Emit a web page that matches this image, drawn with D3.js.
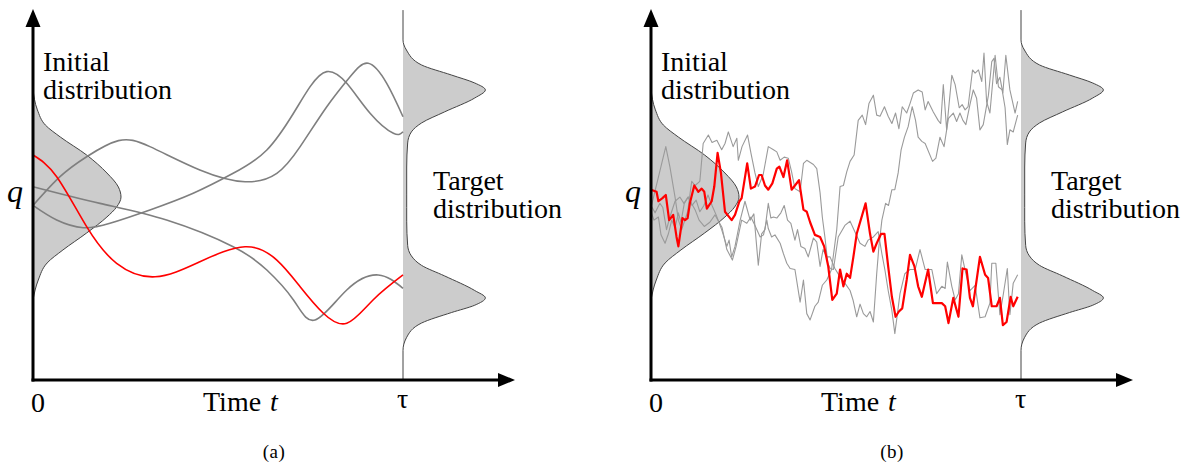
<!DOCTYPE html>
<html>
<head>
<meta charset="utf-8">
<script src="https://cdn.jsdelivr.net/npm/d3@7"></script>
<style>
  html, body { margin: 0; padding: 0; background: #fff; }
  svg { display: block; }
</style>
</head>
<body>
<svg id="chart" width="1186" height="462"></svg>
<script>
// ---- data (t in units of tau, q in units of the well position) ----
const panelNames = ["(a)", "(b)"];
const tickLabels = ["0", "\u03c4"];

// initial distribution (q, relative density)
const initQ = [1.02, 0.82, 0.676, 0.562, 0.39, 0.219, 0.086, -0.01, -0.105, -0.2, -0.352, -0.514, -0.638, -0.8, -0.99];
const initP = [0, 0.05, 0.14, 0.31, 0.61, 0.84, 0.97, 1, 0.95, 0.84, 0.61, 0.34, 0.16, 0.06, 0];

// target (double well) distribution
const targetQ = [1.77, 1.486, 1.39, 1.248, 1.152, 1.076, 1.01, 0.933, 0.80, 0.695, 0.61, 0.505, 0.276, 0.01,
                 -0.11, -0.24, -0.47, -0.57, -0.66, -0.76, -0.90, -0.97, -1.04, -1.11, -1.21, -1.35, -1.47, -1.75];
const targetP = [0, 0, 0.039, 0.21, 0.55, 0.815, 0.936, 0.815, 0.47, 0.21, 0.095, 0.053, 0.042, 0.042,
                 0.042, 0.042, 0.053, 0.095, 0.21, 0.47, 0.815, 0.936, 0.815, 0.55, 0.21, 0.039, 0, 0];

// (a) smooth trajectories [t, q]
const smoothRed = [[0,.39],[.064,.184],[.145,-.292],[.226,-.641],[.33,-.769],[.451,-.626],[.573,-.483],
  [.659,-.61],[.722,-.864],[.784,-1.114],[.848,-1.212],[.919,-.99],[1,-.752]];
const smoothGray1 = [[0,-.09],[.073,.184],[.145,.374],[.231,.527],[.316,.47],[.451,.248],[.573,.136],
  [.659,.216],[.722,.47],[.794,.85],[.857,1.136],[.906,1.264],[.956,1.073],[1,.755]];
const smoothGray2 = [[0,-.09],[.064,-.229],[.136,-.302],[.208,-.26],[.316,-.133],[.433,.026],[.541,.216],
  [.632,.438],[.704,.788],[.749,1.041],[.794,1.184],[.848,1.073],[.911,.788],[.974,.597],[1,.612]];
const smoothGray3 = [[0,.089],[.181,-.07],[.361,-.229],[.541,-.483],[.632,-.705],[.704,-.99],[.762,-1.181],
  [.848,-.895],[.933,-.752],[1,-.879]];

// (b) noisy trajectories [t, q]
const noisyRed = [[0,.06],[.015,.04],[.02,-.05],[.031,-.02],[.04,.01],[.049,-.23],[.06,-.18],[.069,-.39],
  [.074,-.48],[.085,-.21],[.092,-.23],[.099,-.21],[.105,-.07],[.117,.1],[.128,.04],[.137,.07],[.144,.04],
  [.151,-.12],[.164,-.05],[.171,.09],[.18,.41],[.189,.22],[.2,-.15],[.218,-.23],[.227,-.18],[.239,-.05],
  [.245,-.02],[.26,.31],[.27,.07],[.281,.09],[.292,.2],[.299,.2],[.308,.1],[.317,.06],[.328,.12],[.34,.26],
  [.347,.28],[.358,.18],[.368,.34],[.38,.06],[.389,.1],[.4,.15],[.412,-.13],[.421,-.15],[.43,-.25],
  [.443,-.37],[.457,-.39],[.468,-.48],[.479,-.67],[.49,-.99],[.502,-.93],[.511,-.7],[.52,-.86],[.529,-.74],
  [.538,-.78],[.547,-.58],[.556,-.36],[.58,-.07],[.592,-.36],[.601,-.53],[.61,-.45],[.622,-.36],[.631,-.36],
  [.641,-.67],[.651,-.96],[.661,-1.15],[.67,-1.1],[.679,-1.07],[.691,-.8],[.7,-.56],[.712,-.67],[.722,-.86],
  [.732,-.96],[.749,-.7],[.762,-1.02],[.786,-1.02],[.795,-1.05],[.804,-1.21],[.817,-.97],[.831,-1.15],
  [.842,-.69],[.853,-.7],[.862,-.97],[.87,-1.05],[.889,-.58],[.903,-.75],[.911,-.78],[.921,-1.05],
  [.934,-1.05],[.943,-.97],[.951,-1.23],[.961,-1.2],[.972,-.96],[.979,-1.05],[.991,-.96]];
const noisyGray1 = [[0,-.09],[.011,-.16],[.024,-.07],[.032,-.11],[.042,-.32],[.051,-.2],[.065,-.05],[.078,-.01],
  [.089,-.07],[.1,-.01],[.119,-.13],[.13,-.23],[.144,-.29],[.159,-.25],[.173,-.18],[.181,-.23],[.192,-.3],
  [.205,-.51],[.22,-.61],[.23,-.48],[.245,-.23],[.259,-.26],[.27,-.2],[.281,-.28],[.295,-.39],[.304,-.37],
  [.313,-.23],[.317,-.31],[.326,-.39],[.335,-.37],[.349,-.45],[.358,-.55],[.367,-.64],[.376,-.69],[.389,-.7],
  [.403,-1.01],[.412,-.8],[.421,-1.12],[.43,-1.18],[.443,-1.05],[.452,-1.01],[.463,-.85],[.475,-.8],
  [.488,-.7],[.502,-.32],[.511,.09],[.52,.1],[.529,.23],[.538,.33],[.549,.39],[.56,.72],[.571,.77],[.58,.68],
  [.589,.88],[.601,.96],[.61,.77],[.619,.76],[.631,.85],[.641,.76],[.651,.69],[.661,.79],[.67,.64],[.679,.85],
  [.691,.79],[.7,.88],[.709,.98],[.722,1.01],[.733,.99],[.741,.82],[.749,.9],[.763,.8],[.776,.72],[.783,.69],
  [.79,1.06],[.799,.63],[.813,1.15],[.822,1.06],[.833,.84],[.841,.87],[.849,.82],[.857,.85],[.869,1.2],
  [.876,1.17],[.885,1.2],[.894,1.09],[.9,1.36],[.907,.9],[.916,.79],[.93,1.34],[.939,1.04],[.949,1.01],
  [.957,.84],[.963,.49],[.97,.63],[.979,.61],[.991,.77]];
const noisyGray2 = [[0,-.15],[.008,-.23],[.02,-.2],[.027,-.37],[.038,-.45],[.047,-.36],[.056,-.23],[.065,-.3],
  [.074,-.16],[.081,-.25],[.09,-.07],[.101,-.01],[.111,-.09],[.122,-.04],[.132,-.15],[.143,-.09],[.154,.01],
  [.165,-.09],[.176,-.18],[.191,-.32],[.205,-.48],[.211,-.42],[.218,-.58],[.227,-.48],[.241,-.23],[.254,-.05],
  [.268,-.23],[.278,-.17],[.29,-.66],[.299,-.36],[.308,-.32],[.317,-.07],[.324,-.21],[.331,-.2],[.34,-.21],
  [.351,-.16],[.36,-.09],[.369,-.23],[.378,-.26],[.389,-.42],[.396,-.32],[.405,-.48],[.416,-.5],[.425,-.58],
  [.439,-.4],[.448,-.44],[.457,-.67],[.465,-.51],[.475,-.58],[.484,-.58],[.497,-.69],[.511,-.77],[.524,-.83],
  [.538,-.9],[.546,-.99],[.556,-1.15],[.565,-1.03],[.574,-1.12],[.583,-1.15],[.592,-1.1],[.601,-1.2],
  [.61,-.74],[.616,-.48],[.624,-.23],[.634,-.07],[.642,-.09],[.651,.06],[.659,.06],[.668,.22],[.676,.44],
  [.685,.56],[.695,.66],[.706,.85],[.715,.72],[.722,.56],[.732,.52],[.741,.5],[.761,.33],[.77,.36],[.781,.56],
  [.792,.47],[.804,.74],[.817,.79],[.826,.71],[.835,.79],[.843,.72],[.851,.68],[.862,.87],[.871,1.01],
  [.88,.93],[.889,.63],[.898,.68],[.912,.96],[.921,1.28],[.927,1.31],[.934,1.07],[.943,1.13],[.951,.98],
  [.959,1.34],[.97,1.01],[.984,.79],[.991,.9]];
const noisyGray3 = [[0,-.11],[.04,.47],[.051,.28],[.065,-.01],[.074,-.23],[.083,-.32],[.099,-.15],[.11,.14],
  [.119,.1],[.132,.14],[.141,.5],[.155,.58],[.165,.51],[.178,.53],[.191,.44],[.2,.5],[.209,.61],[.222,.47],
  [.232,.55],[.236,.34],[.246,.47],[.261,.58],[.27,.41],[.281,.22],[.29,.09],[.303,.2],[.317,.47],[.331,.44],
  [.34,.42],[.349,.34],[.36,.37],[.371,.36],[.38,.23],[.389,.07],[.403,.04],[.412,.31],[.421,.34],[.439,.3],
  [.448,.26],[.457,.03],[.463,-.2],[.47,-.39],[.478,-.64],[.484,-.69],[.493,-.7],[.506,-.39],[.524,-.28],
  [.538,-.24],[.551,-.34],[.565,-.45],[.578,-.48],[.587,-.42],[.601,-.39],[.614,-.34],[.624,-.55],[.632,-.7],
  [.641,-.9],[.651,-1.09],[.659,-1.31],[.673,-.93],[.686,-.74],[.7,-.7],[.714,-.7],[.727,-.51],[.741,-.7],
  [.759,-.7],[.772,-.93],[.786,-.86],[.795,-.88],[.801,-.63],[.813,-.86],[.822,-.99],[.831,-.93],[.84,-.56],
  [.853,-.77],[.862,-.9],[.876,-.85],[.889,-1.16],[.903,-1.15],[.916,-1.02],[.921,-.64],[.932,-.64],
  [.943,-1.13],[.952,-.94],[.963,-.69],[.97,-1.13],[.979,-.83],[.991,-.75]];

// ---- layout ----
const svg = d3.select("#chart");
const serif = "Liberation Serif, Times New Roman, serif";
const panelLeft = [33, 651];
const axisY0 = 380, axisTop = 10, plotW = 370, axisLen = 482;

const y = d3.scaleLinear().domain([-1.752, 1.771]).range([axisY0, axisTop]);
const pScale = d3.scaleLinear().domain([0, 1]).range([0, 88]);

function drawPanel(idx, trajectories, curve) {
  const left = panelLeft[idx];
  const x = d3.scaleLinear().domain([0, 1]).range([left, left + plotW]);
  const g = svg.append("g");

  const initData = initQ.map((q, i) => [q, initP[i]]);
  const targetData = targetQ.map((q, i) => [q, targetP[i]]);

  const area = base => d3.area()
    .y(d => y(d[0]))
    .x0(x(base))
    .x1(d => x(base) + pScale(d[1]))
    .curve(d3.curveMonotoneY);
  const edge = base => d3.line()
    .y(d => y(d[0]))
    .x(d => x(base) + pScale(d[1]))
    .curve(d3.curveMonotoneY);

  // distributions
  g.append("path").datum(initData).attr("d", area(0)).attr("fill", "#cccccc");
  g.append("path").datum(initData).attr("d", edge(0)).attr("fill", "none")
    .attr("stroke", "#444").attr("stroke-width", 1);
  g.append("path").datum(targetData).attr("d", area(1)).attr("fill", "#cccccc");
  g.append("path").datum(targetData).attr("d", edge(1)).attr("fill", "none")
    .attr("stroke", "#444").attr("stroke-width", 1);

  // trajectories
  const line = d3.line().x(d => x(d[0])).y(d => y(d[1])).curve(curve);
  trajectories.forEach(tr => {
    g.append("path").datum(tr.data)
      .attr("d", line)
      .attr("fill", "none")
      .attr("stroke", tr.color)
      .attr("stroke-width", tr.width)
      .attr("stroke-linejoin", "round");
  });

  // axes, drawn by hand so the arrow heads sit on the ends
  const xEnd = left + axisLen;
  g.append("line").attr("x1", left - 1.5).attr("x2", xEnd - 15)
    .attr("y1", axisY0).attr("y2", axisY0).attr("stroke", "#000").attr("stroke-width", 3);
  g.append("path")
    .attr("d", `M${xEnd - 17},${axisY0 - 7}L${xEnd},${axisY0}L${xEnd - 17},${axisY0 + 7}Z`)
    .attr("fill", "#000");
  g.append("line").attr("x1", left).attr("x2", left)
    .attr("y1", axisY0 + 1.5).attr("y2", axisTop + 16).attr("stroke", "#000").attr("stroke-width", 3);
  g.append("path")
    .attr("d", `M${left - 7.5},${axisTop + 17}L${left},${axisTop - 1}L${left + 7.5},${axisTop + 17}Z`)
    .attr("fill", "#000");

  // tick labels 0 and tau
  const xAxis = g.append("g").attr("transform", `translate(0,${axisY0})`)
    .call(d3.axisBottom(x).tickValues([0, 1]).tickFormat((d, i) => tickLabels[i]).tickSize(0).tickPadding(12));
  xAxis.select(".domain").remove();
  xAxis.selectAll("text")
    .attr("font-family", serif).attr("font-size", 28).attr("fill", "#000")
    .attr("dx", (d, i) => i === 0 ? 4.5 : -1)
    .attr("dy", (d, i) => i === 0 ? "0.71em" : "0.58em");

  const yAxis = g.append("g").attr("transform", `translate(${left},0)`)
    .call(d3.axisLeft(y).tickValues([0]).tickFormat(() => "q").tickSize(0).tickPadding(10));
  yAxis.select(".domain").remove();
  yAxis.selectAll("text")
    .attr("font-family", serif).attr("font-size", 32).attr("font-style", "italic")
    .attr("fill", "#000").attr("dy", "0.16em");

  // two-line labels
  const lab2 = (tx, ty, l1, l2) => {
    const t = g.append("text").attr("x", tx).attr("y", ty)
      .attr("font-family", serif).attr("font-size", 28).attr("fill", "#000");
    t.append("tspan").attr("x", tx).text(l1);
    t.append("tspan").attr("x", tx).attr("dy", 27.5).text(l2);
  };
  lab2(left + 10, 71, "Initial", "distribution");
  lab2(x(1) + 30, 190, "Target", "distribution");

  const tl = g.append("text").attr("x", left + 170).attr("y", 411)
    .attr("font-family", serif).attr("font-size", 28).attr("fill", "#000");
  tl.append("tspan").text("Time");
  tl.append("tspan").attr("x", left + 237).attr("font-style", "italic").text("t");

  g.append("text").attr("x", left + 241).attr("y", 458)
    .attr("text-anchor", "middle").attr("font-family", serif).attr("font-size", 19)
    .attr("letter-spacing", 0.5).attr("fill", "#000").text(panelNames[idx]);
}

drawPanel(0, [
  { data: smoothGray1, color: "#7f7f7f", width: 1.6 },
  { data: smoothGray2, color: "#7f7f7f", width: 1.6 },
  { data: smoothGray3, color: "#7f7f7f", width: 1.6 },
  { data: smoothRed, color: "#ff0000", width: 1.6 }
], d3.curveNatural);

drawPanel(1, [
  { data: noisyGray1, color: "#9a9a9a", width: 1.1 },
  { data: noisyGray2, color: "#9a9a9a", width: 1.1 },
  { data: noisyGray3, color: "#9a9a9a", width: 1.1 },
  { data: noisyRed, color: "#ff0000", width: 2.2 }
], d3.curveLinear);
</script>
</body>
</html>
